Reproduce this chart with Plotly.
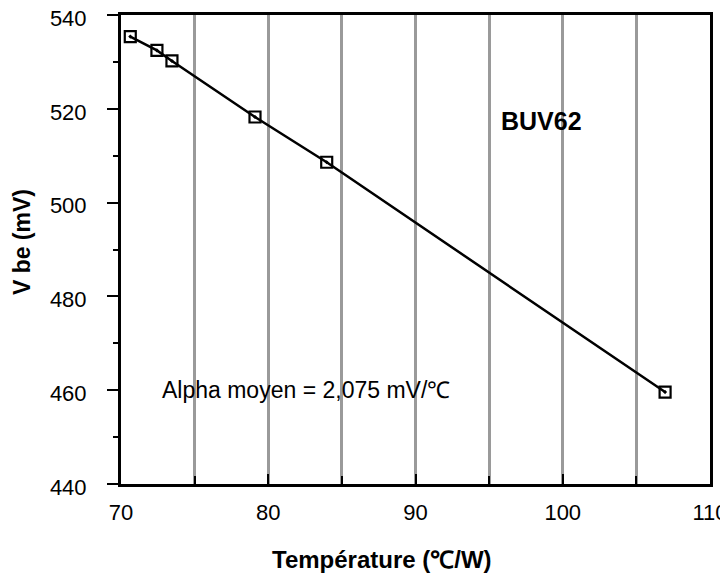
import plotly.graph_objects as go

temperature = [70.63, 72.44, 73.46, 79.1, 83.97, 106.95]
vbe = [535.4, 532.45, 530.2, 518.25, 508.6, 459.6]

x_title = "Température (℃/W)"
y_title = "V be (mV)"
label_device = "BUV62"
label_alpha = "Alpha moyen = 2,075 mV/℃"

FONT = "Liberation Sans, Arial, sans-serif"

fig = go.Figure()
fig.add_trace(go.Scatter(
    x=temperature, y=vbe, mode="lines+markers",
    line=dict(color="black", width=2.5),
    marker=dict(symbol="square-open-dot", size=11, color="black",
                line=dict(color="black", width=2.2)),
    showlegend=False, cliponaxis=False,
))

fig.add_annotation(x=98.56, y=517.5, text="<b>" + label_device + "</b>",
                   showarrow=False, font=dict(family=FONT, size=25, color="black"))
fig.add_annotation(x=72.66, y=460.1, text=label_alpha, xanchor="left",
                   showarrow=False, font=dict(family=FONT, size=23, color="black"))
# axis titles
fig.add_annotation(xref="paper", yref="paper", x=0.443, y=-0.162,
                   xanchor="center", yanchor="middle", showarrow=False,
                   text="<b>" + x_title + "</b>",
                   font=dict(family=FONT, size=24, color="black"))
fig.add_annotation(xref="paper", yref="paper", x=-0.167, y=0.515,
                   xanchor="center", yanchor="middle", showarrow=False,
                   textangle=-90, text="<b>" + y_title + "</b>",
                   font=dict(family=FONT, size=23, color="black"))

fig.update_layout(
    width=720, height=568,
    margin=dict(l=113, r=18, t=7, b=92),
    plot_bgcolor="white", paper_bgcolor="white",
    font=dict(family=FONT, size=22, color="black"),
)
fig.update_xaxes(
    range=[70, 110], dtick=10, tick0=70, automargin=False,
    showline=True, linecolor="black", linewidth=3, mirror=True,
    ticks="inside", ticklen=10, tickwidth=2, tickcolor="black",
    showgrid=True, gridcolor="#9a9a9a", gridwidth=3,
    minor=dict(dtick=5, showgrid=True, gridcolor="#9a9a9a", gridwidth=3,
               ticks="inside", ticklen=8, tickcolor="black", tickwidth=2),
    ticklabelstandoff=7, ticklabeloverflow="allow",
    zeroline=False,
)
fig.update_yaxes(
    range=[440, 540], dtick=20, tick0=440, automargin=False,
    showline=True, linecolor="black", linewidth=3, mirror=True,
    ticks="outside", ticklen=11, tickwidth=2, tickcolor="black",
    showgrid=False,
    minor=dict(dtick=10, ticks="outside", ticklen=5, tickcolor="black", tickwidth=2),
    ticklabelstandoff=16, ticklabelshift=3, ticklabeloverflow="allow",
    zeroline=False,
)

fig.write_html("out.html")
